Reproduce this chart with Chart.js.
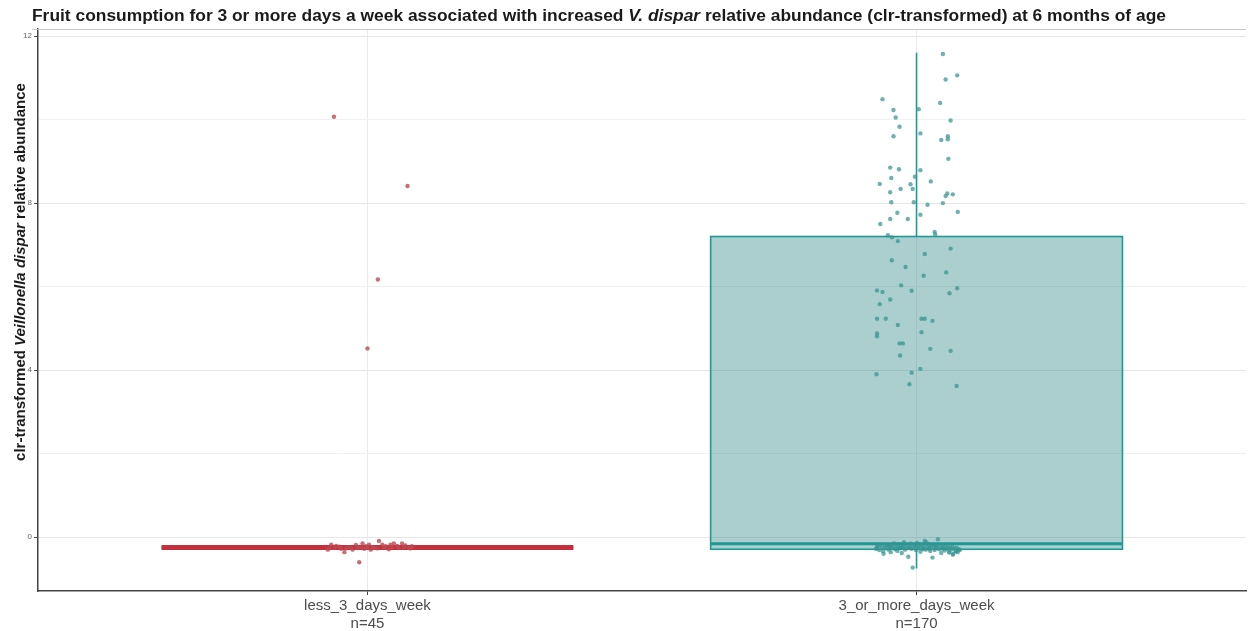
<!DOCTYPE html>
<html>
<head>
<meta charset="utf-8">
<script src="https://cdn.jsdelivr.net/npm/chart.js@4.4.0/dist/chart.umd.min.js"></script>
<style>
  html, body { margin: 0; padding: 0; background: #fff; }
  #wrap { width: 1250px; height: 631px; }
</style>
</head>
<body>
<div id="wrap"><canvas id="chart" width="1250" height="631"></canvas></div>
<script>
// groups on the x axis
var groups = ['less_3_days_week', '3_or_more_days_week'];
var groupN = ['n=45', 'n=170'];

// y ticks (every 2, labels only on multiples of 4)
var yTicks = [0, 2, 4, 6, 8, 10, 12];

// box statistics per group
var boxQ1     = [-0.25, -0.29];
var boxMedian = [-0.25, -0.16];
var boxQ3     = [-0.25,  7.20];
var whiskLow  = [-0.25, -0.75];
var whiskHigh = [-0.25, 11.60];

// jittered observations, group less_3_days_week (x = offset from the group centre)
var lessX = [-0.061, 0.073, 0.019, 0.000,
  -0.072, -0.066, -0.057, -0.048, -0.042, -0.036, -0.027, -0.021, -0.015, -0.009,
  -0.006, -0.003, 0.003, 0.006, 0.009, 0.021, 0.027, 0.033, 0.039, 0.042,
  0.048, 0.054, 0.063, 0.069, 0.075, 0.081,
  -0.069, -0.060, -0.051, -0.039, -0.030, -0.018, -0.012, 0.000, 0.012, 0.018,
  0.030, 0.045, 0.057, 0.066, 0.078];
var lessY = [10.07, 8.41, 6.17, 4.52,
  -0.30, -0.18, -0.21, -0.28, -0.36, -0.24, -0.30, -0.19, -0.60, -0.15,
  -0.28, -0.22, -0.18, -0.30, -0.24, -0.09, -0.18, -0.22, -0.29, -0.18,
  -0.15, -0.21, -0.15, -0.20, -0.25, -0.22,
  -0.25, -0.26, -0.23, -0.27, -0.25, -0.26, -0.24, -0.26, -0.25, -0.27,
  -0.26, -0.25, -0.26, -0.24, -0.27];

// jittered observations, group 3_or_more_days_week
var moreX = [0.048, 0.074, 0.053, -0.062, 0.043, -0.042, 0.004, -0.038, 0.062, -0.031,
  0.007, -0.042, 0.045, 0.057, 0.057, 0.058, -0.048, -0.032, 0.007, -0.046,
  -0.003, -0.067, 0.026, -0.011, -0.007, -0.029, -0.048, 0.056, 0.066, 0.053,
  -0.046, -0.005, 0.048, 0.020, 0.075, -0.035, 0.007, -0.048, -0.016, -0.066,
  -0.052, -0.045, 0.033, 0.034,
  -0.034, 0.062, 0.015, -0.045, -0.020, 0.054, 0.013, -0.028, 0.074, -0.072,
  -0.062, -0.009, 0.060, -0.048, -0.067, -0.072, -0.056, 0.009, 0.015, 0.029,
  -0.034, -0.072, -0.072, 0.009, -0.031, -0.025, 0.025, 0.062, -0.030, 0.007,
  -0.073, -0.009, -0.013, 0.073,
  -0.074, -0.071, -0.068, -0.066, -0.063, -0.061, -0.058, -0.056, -0.053, -0.051,
  -0.049, -0.047, -0.045, -0.043, -0.041, -0.039, -0.037, -0.035, -0.033, -0.031,
  -0.029, -0.027, -0.025, -0.023, -0.021, -0.019, -0.017, -0.015, -0.013, -0.011,
  -0.009, -0.007, -0.005, -0.003, -0.001, 0.001, 0.003, 0.005, 0.007, 0.009,
  0.011, 0.013, 0.015, 0.017, 0.019, 0.021, 0.023, 0.025, 0.027, 0.029,
  0.031, 0.033, 0.035, 0.037, 0.039, 0.041, 0.043, 0.045, 0.047, 0.049,
  0.051, 0.053, 0.055, 0.057, 0.059, 0.061, 0.063, 0.065, 0.067, 0.069,
  0.071, 0.073, 0.075, 0.077, 0.079, -0.072, -0.060, -0.048, -0.036, -0.024,
  -0.012, 0.000, 0.012, 0.024, 0.036, 0.048, 0.060, 0.072, -0.054, -0.030,
  0.018, 0.066];
var moreY = [11.57, 11.06, 10.96, 10.49, 10.40, 10.23, 10.25, 10.05, 9.98, 9.83,
  9.67, 9.60, 9.51, 9.60, 9.53, 9.06, 8.85, 8.81, 8.79, 8.60,
  8.63, 8.46, 8.52, 8.45, 8.34, 8.34, 8.26, 8.23, 8.21, 8.17,
  8.02, 8.02, 8.00, 7.96, 7.79, 7.77, 7.72, 7.62, 7.62, 7.50,
  7.23, 7.18, 7.31, 7.25,
  7.09, 6.91, 6.78, 6.63, 6.47, 6.34, 6.26, 6.03, 5.96, 5.91,
  5.87, 5.90, 5.84, 5.69, 5.58, 5.23, 5.23, 5.23, 5.23, 5.18,
  5.08, 4.88, 4.81, 4.91, 4.64, 4.64, 4.51, 4.46, 4.35, 4.03,
  3.90, 3.94, 3.66, 3.62,
  -0.28, -0.22, -0.31, -0.19, -0.25, -0.34, -0.21, -0.27, -0.18, -0.30,
  -0.24, -0.36, -0.20, -0.26, -0.15, -0.29, -0.23, -0.33, -0.17, -0.27,
  -0.21, -0.38, -0.25, -0.12, -0.30, -0.19, -0.26, -0.47, -0.22, -0.16,
  -0.28, -0.73, -0.20, -0.24, -0.31, -0.14, -0.26, -0.22, -0.35, -0.18,
  -0.27, -0.21, -0.09, -0.30, -0.24, -0.17, -0.28, -0.33, -0.20, -0.49,
  -0.23, -0.31, -0.26, -0.18, -0.05, -0.29, -0.22, -0.38, -0.25, -0.19,
  -0.32, -0.24, -0.28, -0.21, -0.35, -0.26, -0.30, -0.23, -0.40, -0.27,
  -0.33, -0.25, -0.36, -0.29, -0.31, -0.24, -0.40, -0.21, -0.27, -0.23,
  -0.26, -0.20, -0.29, -0.25, -0.22, -0.28, -0.37, -0.34, -0.19, -0.25,
  -0.13, -0.42];

var red = '#c3303b',
    teal = '#1f9994';

var FONT = '"Liberation Sans", Arial, Helvetica, sans-serif';

function toPoints(xs, ys, centre) {
    return xs.map(function (dx, i) { return { x: centre + dx, y: ys[i] }; });
}

// boxes, medians and whiskers, drawn under the points
var boxPlugin = {
    id: 'boxes',
    beforeDatasetsDraw: function (chart) {
        var ctx = chart.ctx, xs = chart.scales.x, ys = chart.scales.y;
        var styles = [
            { line: red, fill: null, median: 5 },
            { line: teal, fill: 'rgba(28,125,125,0.37)', median: 3 }
        ];
        ctx.save();
        groups.forEach(function (g, i) {
            var st = styles[i];
            var cx = xs.getPixelForValue(i + 1);
            var left = xs.getPixelForValue(i + 1 - 0.375);
            var right = xs.getPixelForValue(i + 1 + 0.375);
            var top = ys.getPixelForValue(boxQ3[i]);
            var bot = ys.getPixelForValue(boxQ1[i]);

            // whiskers
            ctx.strokeStyle = st.line;
            ctx.lineWidth = 1.6;
            ctx.beginPath();
            ctx.moveTo(cx, ys.getPixelForValue(whiskHigh[i]));
            ctx.lineTo(cx, top);
            ctx.moveTo(cx, bot);
            ctx.lineTo(cx, ys.getPixelForValue(whiskLow[i]));
            ctx.stroke();

            if (st.fill) {
                ctx.fillStyle = st.fill;
                ctx.fillRect(left, top, right - left, bot - top);
            }
            ctx.strokeRect(left, top, right - left, bot - top);

            // median
            var my = ys.getPixelForValue(boxMedian[i]);
            ctx.lineWidth = st.median;
            ctx.beginPath();
            ctx.moveTo(left, my);
            ctx.lineTo(right, my);
            ctx.stroke();
        });
        ctx.restore();
    }
};

// title, y axis title (both with an italic species name) and the top rule
function drawRuns(ctx, runs, x, y) {
    runs.forEach(function (r) {
        ctx.font = r[1] + ' ' + FONT;
        ctx.fillText(r[0], x, y);
        x += ctx.measureText(r[0]).width;
    });
}
function runsWidth(ctx, runs) {
    var w = 0;
    runs.forEach(function (r) {
        ctx.font = r[1] + ' ' + FONT;
        w += ctx.measureText(r[0]).width;
    });
    return w;
}

var titleRuns = [
    ['Fruit consumption for 3 or more days a week associated with increased ', 'bold 17.4px'],
    ['V. dispar', 'italic bold 17.4px'],
    [' relative abundance (clr-transformed) at 6 months of age', 'bold 17.4px']
];
var yTitleRuns = [
    ['clr-transformed ', 'bold 15px'],
    ['Veillonella dispar', 'italic bold 15px'],
    [' relative abundance', 'bold 15px']
];

var textPlugin = {
    id: 'texts',
    afterDraw: function (chart) {
        var ctx = chart.ctx, area = chart.chartArea;
        ctx.save();
        ctx.strokeStyle = '#c8c8c8';
        ctx.lineWidth = 1;
        ctx.beginPath();
        ctx.moveTo(area.left - 6, area.top + 0.5);
        ctx.lineTo(area.right, area.top + 0.5);
        ctx.stroke();

        ctx.fillStyle = '#1a1a1a';
        ctx.textBaseline = 'alphabetic';
        drawRuns(ctx, titleRuns, 32, 21);

        var w = runsWidth(ctx, yTitleRuns);
        ctx.translate(25, 272);
        ctx.rotate(-Math.PI / 2);
        drawRuns(ctx, yTitleRuns, -w / 2, 0);
        ctx.restore();
    }
};

var chart = new Chart(document.getElementById('chart'), {
    type: 'scatter',
    data: {
        datasets: [
            {
                data: toPoints(lessX, lessY, 1),
                backgroundColor: 'rgba(190,72,82,0.8)',
                borderWidth: 0,
                pointRadius: 2.2
            },
            {
                data: toPoints(moreX, moreY, 2),
                backgroundColor: 'rgba(52,148,146,0.72)',
                borderWidth: 0,
                pointRadius: 2.2
            }
        ]
    },
    options: {
        responsive: false,
        animation: false,
        devicePixelRatio: 1,
        layout: { padding: { top: 29, right: 1, left: 0, bottom: 0 } },
        plugins: {
            legend: { display: false },
            tooltip: { enabled: false }
        },
        scales: {
            x: {
                type: 'linear',
                min: 0.4,
                max: 2.6,
                afterBuildTicks: function (s) {
                    s.ticks = groups.map(function (g, i) { return { value: i + 1 }; });
                },
                afterFit: function (s) { s.height = 40; },
                ticks: {
                    autoSkip: false,
                    maxRotation: 0,
                    padding: 2,
                    color: '#4d4d4d',
                    font: { family: FONT, size: 15, lineHeight: 1.2 },
                    callback: function (v) {
                        var i = Math.round(v) - 1;
                        return [groups[i], groupN[i]];
                    }
                },
                grid: { color: '#ebebeb', tickColor: '#444', tickLength: 4 },
                border: { color: '#444', width: 1.5 }
            },
            y: {
                min: -1.29,
                max: 12.17,
                afterBuildTicks: function (s) {
                    s.ticks = yTicks.map(function (v) { return { value: v }; });
                },
                afterFit: function (s) { s.width = 38; },
                ticks: {
                    padding: 2,
                    color: '#666',
                    font: { family: FONT, size: 8 },
                    callback: function (v) { return v % 4 === 0 ? String(v) : ''; }
                },
                grid: {
                    color: function (c) { return c.tick && c.tick.value % 4 === 0 ? '#e6e6e6' : '#f1f1f1'; },
                    tickColor: function (c) { return c.tick && c.tick.value % 4 === 0 ? '#444' : 'rgba(0,0,0,0)'; },
                    tickLength: 4
                },
                border: { color: '#444', width: 1.5 }
            }
        }
    },
    plugins: [boxPlugin, textPlugin]
});
</script>
</body>
</html>
